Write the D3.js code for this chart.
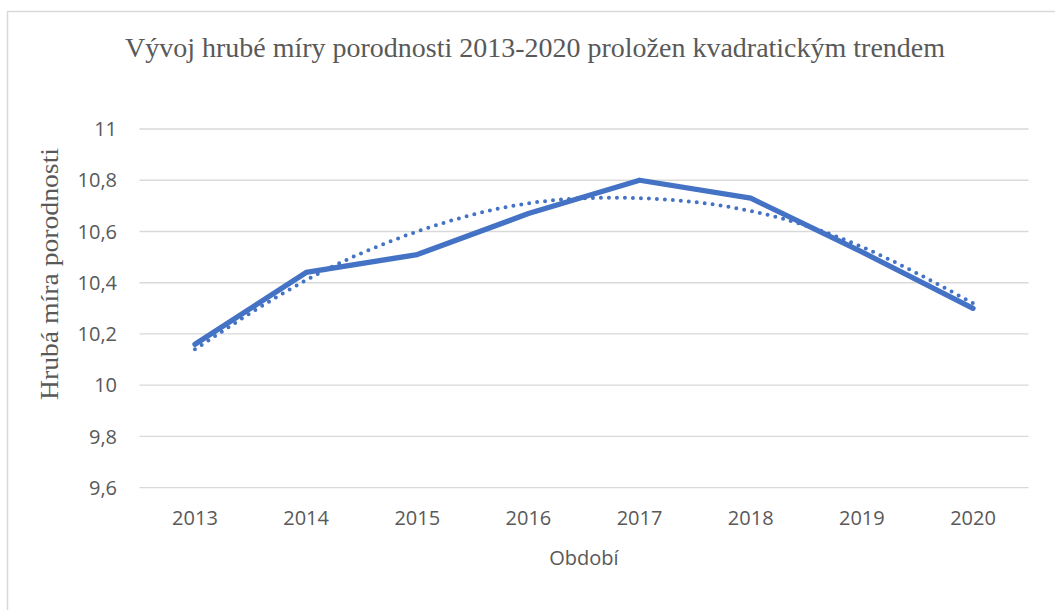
<!DOCTYPE html>
<html>
<head>
<meta charset="utf-8">
<script src="https://cdn.jsdelivr.net/npm/d3@7"></script>
<style>
  body { margin: 0; background: #fff; }
  svg { display: block; }
</style>
</head>
<body>
<div id="chart"></div>
<script>
/* global d3 */

// data
const years = ['2013', '2014', '2015', '2016', '2017', '2018', '2019', '2020']
const birthRate = [10.16, 10.44, 10.51, 10.67, 10.80, 10.73, 10.52, 10.30]
const trendValues = [10.14, 10.41, 10.60, 10.71, 10.73, 10.68, 10.54, 10.32]
const yTicks = [9.6, 9.8, 10, 10.2, 10.4, 10.6, 10.8, 11]

const title = 'Vývoj hrubé míry porodnosti 2013-2020 proložen kvadratickým trendem'
const yLabel = 'Hrubá míra porodnosti'
const xLabel = 'Období'

const width = 1055
const height = 610
const plot = { left: 139.4, right: 1028.6, top: 129, bottom: 487.7 }
const blue = '#4472c4'
const textGray = '#595959'
const sans = '"Open Sans", "Liberation Sans", sans-serif'
const serif = '"Liberation Serif", "Times New Roman", serif'

const svg = d3.select('#chart').append('svg').attr('width', width).attr('height', height)

// chart area border (cropped at right and bottom)
svg.append('rect')
  .attr('x', 7.5).attr('y', 11.5)
  .attr('width', 1200).attr('height', 800)
  .attr('fill', 'none')
  .attr('stroke', '#d9d9d9')
  .attr('stroke-width', 1.5)

const x = d3.scalePoint().domain(years).range([ plot.left, plot.right ]).padding(0.5)
const y = d3.scaleLinear().domain([ 9.6, 11 ]).range([ plot.bottom, plot.top ])

// gridlines
svg.append('g')
  .selectAll('line')
  .data(yTicks)
  .enter()
  .append('line')
  .attr('x1', plot.left)
  .attr('x2', plot.right)
  .attr('y1', (d) => y(d))
  .attr('y2', (d) => y(d))
  .attr('stroke', '#d9d9d9')
  .attr('stroke-width', 1.3)

// y tick labels
svg.append('g')
  .selectAll('text')
  .data(yTicks)
  .enter()
  .append('text')
  .attr('x', 117)
  .attr('y', (d) => y(d))
  .attr('dy', '0.36em')
  .attr('text-anchor', 'end')
  .attr('font-family', sans)
  .attr('font-size', '20px')
  .attr('fill', textGray)
  .text((d) => String(d).replace('.', ','))

// x tick labels
svg.append('g')
  .selectAll('text')
  .data(years)
  .enter()
  .append('text')
  .attr('x', (d) => x(d))
  .attr('y', 525)
  .attr('text-anchor', 'middle')
  .attr('font-family', sans)
  .attr('font-size', '20px')
  .attr('fill', textGray)
  .text((d) => d)

// quadratic trend (dotted)
const trendLine = d3.line()
  .x((d, i) => x(years[i]))
  .y((d) => y(d))
  .curve(d3.curveNatural)

svg.append('path')
  .datum(trendValues)
  .attr('d', trendLine)
  .attr('fill', 'none')
  .attr('stroke', blue)
  .attr('stroke-width', 4)
  .attr('stroke-linecap', 'round')
  .attr('stroke-dasharray', '0 8')

// data series
const dataLine = d3.line()
  .x((d, i) => x(years[i]))
  .y((d) => y(d))

svg.append('path')
  .datum(birthRate)
  .attr('d', dataLine)
  .attr('fill', 'none')
  .attr('stroke', blue)
  .attr('stroke-width', 5.3)
  .attr('stroke-linecap', 'round')
  .attr('stroke-linejoin', 'round')

// title
svg.append('text')
  .attr('x', (plot.left + plot.right) / 2 - 49)
  .attr('y', 57)
  .attr('text-anchor', 'middle')
  .attr('font-family', serif)
  .attr('font-size', '27px')
  .attr('textLength', 820)
  .attr('lengthAdjust', 'spacingAndGlyphs')
  .attr('fill', textGray)
  .text(title)

// axis titles
svg.append('text')
  .attr('transform', 'translate(58, 274) rotate(-90)')
  .attr('text-anchor', 'middle')
  .attr('font-family', serif)
  .attr('font-size', '26px')
  .attr('textLength', 252)
  .attr('lengthAdjust', 'spacingAndGlyphs')
  .attr('fill', textGray)
  .text(yLabel)

svg.append('text')
  .attr('x', (plot.left + plot.right) / 2)
  .attr('y', 565)
  .attr('text-anchor', 'middle')
  .attr('font-family', sans)
  .attr('font-size', '20px')
  .attr('fill', textGray)
  .text(xLabel)
</script>
</body>
</html>
